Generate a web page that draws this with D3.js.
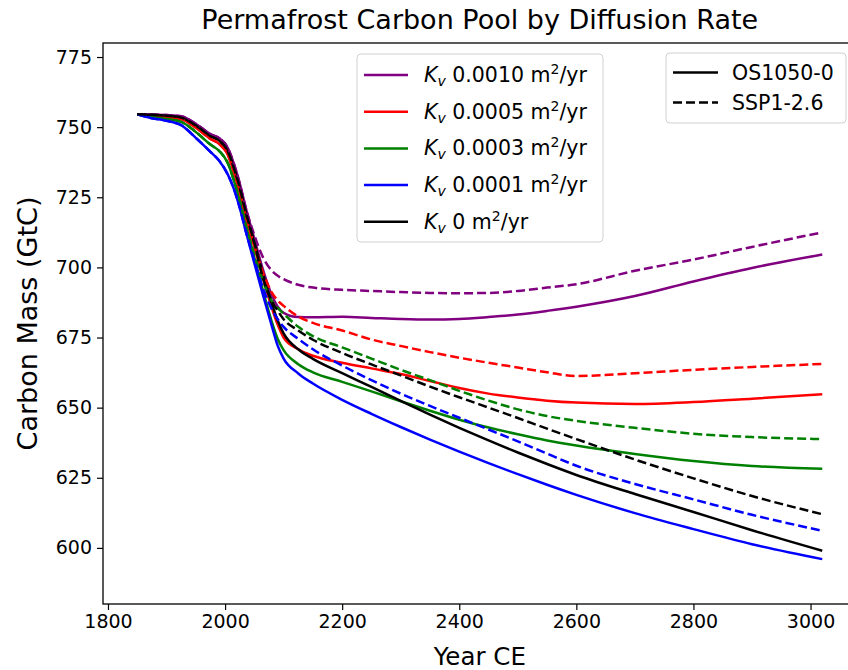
<!DOCTYPE html>
<html>
  <head>
    <title>Permafrost Carbon Pool</title>
    <style>
      body { margin: 0; background: #fff; }
      text { font-family: 'DejaVu Sans', sans-serif; }
    </style>
  </head>
  <body>
    <div><svg id='chart'/></div>
  </body>
  <script type="text/javascript" src="https://cdn.jsdelivr.net/npm/d3@7"></script>
  <script type="text/javascript">
    // years shared by every curve
    const years = [1850, 1875, 1900, 1925, 1950, 1975, 1990, 2005, 2015, 2025, 2035, 2050, 2065, 2080, 2090,
      2100, 2125, 2150, 2200, 2250, 2300, 2350, 2400, 2450, 2500, 2550, 2600, 2700, 2800, 2900, 3020];

    // OS1050-0 (solid)
    const os_k0010 = [754.6, 754.5, 754.3, 753.9, 751.2, 747.5, 746.1, 742.5, 737, 730, 721.5, 710.2, 699, 690, 686,
      683.8, 682.3, 682.2, 682.4, 682.0, 681.6, 681.4, 681.6, 682.3, 683.2, 684.5, 686, 689.8, 695, 699.8, 704.6];
    const os_k0005 = [754.6, 754, 753.6, 752.9, 749.8, 745.8, 744, 740, 734, 727, 718.5, 707.3, 696, 685.5, 679.5,
      675, 670.8, 668.5, 666, 664, 662, 659.5, 657, 655, 653.6, 652.5, 651.8, 651.3, 652, 653.2, 654.8];
    const os_k0003 = [754.6, 753.6, 752.9, 751.9, 748.3, 743.8, 741.5, 737, 731, 723.8, 715.5, 703.5, 691.5, 680.5, 674.5,
      670.5, 665.5, 662.6, 659.2, 655.8, 652.3, 648.9, 645.7, 642.9, 640.5, 638.3, 636.5, 633.5, 631, 629.2, 628.2];
    const os_k0001 = [754.6, 753.2, 752.3, 750.7, 746.2, 741.2, 738, 733, 728, 721.3, 713.2, 701.5, 690, 679, 672,
      667.5, 662.2, 658.6, 652.8, 647.8, 643.1, 638.6, 634.3, 630.2, 626.3, 622.5, 618.9, 612.4, 606.7, 601.3, 596];
    const os_k0 = [754.6, 754.4, 754.1, 753.4, 750.6, 746.8, 745.2, 741.3, 735.5, 728.5, 720, 708.8, 697.5, 687, 681,
      676.5, 670.8, 667.4, 662.3, 657.4, 652.4, 647.5, 642.8, 638.3, 634, 629.9, 626, 619.2, 612.8, 606.3, 599];

    // SSP1-2.6 (dashed)
    const ssp_k0010 = [754.6, 754.5, 754.3, 753.9, 751.2, 747.5, 746.1, 742.5, 737, 730, 721.5, 711.5, 703.5, 698.8, 697,
      695.8, 693.8, 692.8, 692, 691.6, 691.2, 690.9, 690.8, 690.9, 691.6, 692.8, 694, 698.8, 702.8, 707.3, 712.5];
    const ssp_k0005 = [754.6, 754, 753.6, 752.9, 749.8, 745.8, 744, 740, 734, 727, 718.5, 707.8, 698, 691, 688.2,
      686.3, 682.5, 680.2, 677.5, 674.3, 672, 669.8, 667.8, 666, 664.3, 662.6, 661.3, 662.3, 663.5, 664.5, 665.6];
    const ssp_k0003 = [754.6, 753.6, 752.9, 751.9, 748.3, 743.8, 741.5, 737, 731, 723.8, 715.5, 704.5, 695, 688, 685.5,
      683.5, 678.8, 675.5, 671.5, 667.5, 663.5, 659.8, 656, 652.5, 649.4, 647, 645.3, 642.8, 640.7, 639.5, 638.8];
    const ssp_k0001 = [754.6, 753.2, 752.3, 750.7, 746.2, 741.2, 738, 733, 728, 721.3, 713.2, 702.5, 692.5, 685, 681.5,
      678.8, 674.5, 670.8, 665, 659.8, 655, 650.6, 646.4, 642.2, 638, 633.6, 629.3, 622.8, 617.3, 611.8, 606.1];
    const ssp_k0 = [754.6, 754.4, 754.1, 753.4, 750.6, 746.8, 745.2, 741.3, 735.5, 728.5, 720, 708.8, 696, 688, 684.5,
      681.5, 677.5, 674.2, 669.5, 665.4, 661.5, 657.5, 653.7, 650, 646.3, 642.5, 638.8, 631.5, 624.8, 618.5, 612];

    const kLabels = ['0.0010', '0.0005', '0.0003', '0.0001', '0'];
    const kColors = ['purple', 'red', 'green', 'blue', 'black'];
    const osSeries = [os_k0010, os_k0005, os_k0003, os_k0001, os_k0];
    const sspSeries = [ssp_k0010, ssp_k0005, ssp_k0003, ssp_k0001, ssp_k0];
    const scenarios = ['OS1050-0', 'SSP1-2.6'];

    const xTicks = [1800, 2000, 2200, 2400, 2600, 2800, 3000];
    const yTicks = [600, 625, 650, 675, 700, 725, 750, 775];

    const [width, height] = [848, 670];
    const svg = d3.select('#chart')
      .attr('width', width)
      .attr('height', height);

    const mLeft = 103, mRight = 856.5, mTop = 43, mBottom = 604;

    const x = d3.scaleLinear().domain([1791.5, 3078.5]).range([mLeft, mRight]);
    const y = d3.scaleLinear().domain([580, 780]).range([mBottom, mTop]);

    svg.append('clipPath').attr('id', 'plotclip')
      .append('rect')
      .attr('x', mLeft).attr('y', mTop)
      .attr('width', mRight - mLeft).attr('height', mBottom - mTop);

    // lines
    const line = d3.line()
      .x((d, i) => x(years[i]))
      .y(d => y(d))
      .curve(d3.curveMonotoneX);

    const plot = svg.append('g').attr('clip-path', 'url(#plotclip)');

    osSeries.forEach(function(s, i) {
      plot.append('path')
        .attr('d', line(s))
        .attr('fill', 'none')
        .attr('stroke', kColors[i])
        .attr('stroke-width', 2.5);
    });
    sspSeries.forEach(function(s, i) {
      plot.append('path')
        .attr('d', line(s))
        .attr('fill', 'none')
        .attr('stroke', kColors[i])
        .attr('stroke-width', 2.5)
        .attr('stroke-dasharray', '9,4');
    });

    // axes
    const xAxis = svg.append('g')
      .attr('transform', 'translate(0,' + mBottom + ')')
      .call(d3.axisBottom(x).tickValues(xTicks).tickFormat(d3.format('d')).tickSize(6).tickPadding(5).tickSizeOuter(0));
    const yAxis = svg.append('g')
      .attr('transform', 'translate(' + mLeft + ',0)')
      .call(d3.axisLeft(y).tickValues(yTicks).tickSize(6).tickPadding(5).tickSizeOuter(0));

    [xAxis, yAxis].forEach(function(a) {
      a.selectAll('text').style('font-size', '19px').attr('fill', '#000')
        .style('font-family', "'DejaVu Sans', sans-serif");
      a.selectAll('line').attr('stroke', '#000').attr('stroke-width', 1.2);
      a.select('.domain').remove();
    });

    // frame
    svg.append('rect')
      .attr('x', mLeft).attr('y', mTop)
      .attr('width', mRight - mLeft).attr('height', mBottom - mTop)
      .attr('fill', 'none')
      .attr('stroke', '#000')
      .attr('stroke-width', 1.3);

    // title and labels
    svg.append('text')
      .attr('x', (mLeft + mRight) / 2).attr('y', 29)
      .attr('text-anchor', 'middle')
      .style('font-size', '27px')
      .text('Permafrost Carbon Pool by Diffusion Rate');

    svg.append('text')
      .attr('x', (mLeft + mRight) / 2).attr('y', 665)
      .attr('text-anchor', 'middle')
      .style('font-size', '24.5px')
      .text('Year CE');

    svg.append('text')
      .attr('transform', 'translate(37,' + (mTop + mBottom) / 2 + ') rotate(-90)')
      .attr('text-anchor', 'middle')
      .style('font-size', '27px')
      .text('Carbon Mass (GtC)');

    // legend: diffusion rate
    const leg1 = svg.append('g');
    leg1.append('rect')
      .attr('x', 357).attr('y', 54)
      .attr('width', 246).attr('height', 188)
      .attr('rx', 4)
      .attr('fill', 'rgba(255,255,255,0.8)')
      .attr('stroke', '#d0d0d0');

    const rows = leg1.selectAll('g.row')
      .data(kLabels)
      .enter()
      .append('g')
      .attr('transform', (d, i) => 'translate(0,' + (75 + i * 36.7) + ')');

    rows.append('line')
      .attr('x1', 364).attr('x2', 408)
      .attr('stroke', (d, i) => kColors[i])
      .attr('stroke-width', 2.5);

    const lt = rows.append('text')
      .attr('x', 424).attr('y', 7)
      .style('font-size', '20.5px');
    lt.append('tspan').attr('font-style', 'italic').text('K');
    lt.append('tspan').attr('font-style', 'italic').attr('dy', 4).style('font-size', '14px').text('v');
    lt.append('tspan').attr('dy', -4).text(d => ' ' + d + ' m');
    lt.append('tspan').attr('dy', -8).style('font-size', '14px').text('2');
    lt.append('tspan').attr('dy', 8).text('/yr');

    // legend: scenario
    const leg2 = svg.append('g');
    leg2.append('rect')
      .attr('x', 666).attr('y', 53)
      .attr('width', 180).attr('height', 70)
      .attr('rx', 4)
      .attr('fill', 'rgba(255,255,255,0.8)')
      .attr('stroke', '#d0d0d0');

    const rows2 = leg2.selectAll('g.row')
      .data(scenarios)
      .enter()
      .append('g')
      .attr('transform', (d, i) => 'translate(0,' + (72.5 + i * 30) + ')');

    rows2.append('line')
      .attr('x1', 673).attr('x2', 718)
      .attr('stroke', '#000')
      .attr('stroke-width', 2.5)
      .attr('stroke-dasharray', (d, i) => i === 0 ? null : '9,4');

    rows2.append('text')
      .attr('x', 732).attr('y', 7)
      .style('font-size', '20.5px')
      .text(d => d);
  </script>
</html>
